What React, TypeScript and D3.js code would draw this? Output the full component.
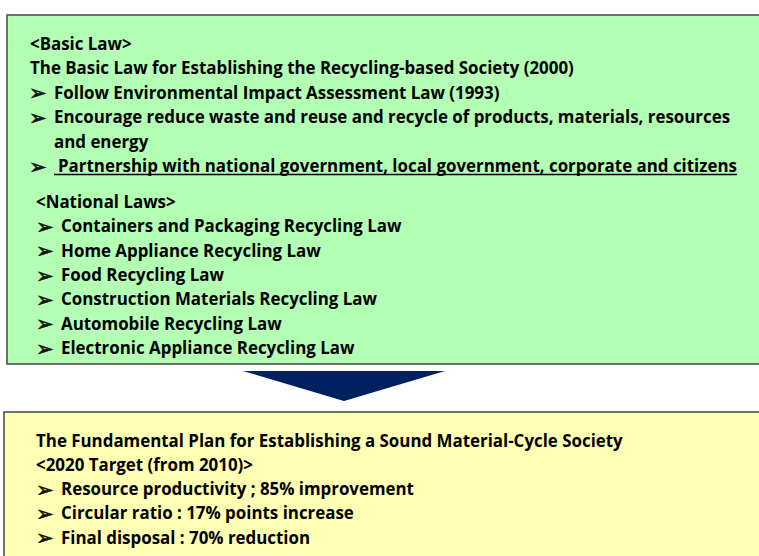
import React, { useRef, useEffect } from "react";
import * as d3 from "d3";

// text content of the two boxes
const basicHeading = "<Basic Law>";
const basicTitle = "The Basic Law for Establishing the Recycling-based Society (2000)";
const basicPoints = [
  "Follow Environmental Impact Assessment Law (1993)",
  "Encourage reduce waste and reuse and recycle of products, materials, resources",
  "and energy",
  "Partnership with national government, local government, corporate and citizens",
];
const basicBulleted = [true, true, false, true];
const nationalHeading = "<National Laws>";
const nationalLaws = [
  "Containers and Packaging Recycling Law",
  "Home Appliance Recycling Law",
  "Food Recycling Law",
  "Construction Materials Recycling Law",
  "Automobile Recycling Law",
  "Electronic Appliance Recycling Law",
];
const planTitle = "The Fundamental Plan for Establishing a Sound Material-Cycle Society";
const planTarget = "<2020 Target (from 2010)>";
const planTargets = [
  "Resource productivity ; 85% improvement",
  "Circular ratio : 17% points increase",
  "Final disposal : 70% reduction",
];

const W = 759;
const H = 556;
const FONT = "'Open Sans', Lato, sans-serif";
const BULLET = "\u27A2";

const App = () => {
  const ref = useRef(null);

  useEffect(() => {
    const svg = d3.select(ref.current);
    svg.selectAll("*").remove();

    const green = "#b3ffb3";
    const yellow = "#ffffb3";
    const border = "#4f4f4f";
    const navy = "#002060";

    // boxes
    svg.append("rect")
      .attr("x", 7).attr("y", 15)
      .attr("width", W + 20).attr("height", 349)
      .attr("fill", green).attr("stroke", border).attr("stroke-width", 1.6);
    svg.append("rect")
      .attr("x", 4).attr("y", 412)
      .attr("width", W + 20).attr("height", 200)
      .attr("fill", yellow).attr("stroke", border).attr("stroke-width", 1.6);

    // arrow between boxes
    const ax = d3.scaleLinear().domain([0, 1]).range([243, 445]);
    const ay = d3.scaleLinear().domain([0, 1]).range([371, 401]);
    const arrow = [[0, 0], [1, 0], [0.5, 1]];
    svg.append("path")
      .attr("d", d3.line().x((d) => ax(d[0])).y((d) => ay(d[1]))(arrow) + "Z")
      .attr("fill", navy);

    const txt = (x, y, s) =>
      svg.append("text")
        .attr("x", x).attr("y", y)
        .attr("font-family", FONT).attr("font-weight", 700)
        .attr("font-size", 16.9).attr("fill", "#000")
        .text(s);

    // arrowhead bullet glyph
    const bullet = (x, y) =>
      svg.append("text")
        .attr("x", x - 1).attr("y", y + 1.5)
        .attr("font-family", "'DejaVu Sans', sans-serif")
        .attr("font-size", 21).attr("fill", "#111")
        .attr("stroke", "#111").attr("stroke-width", 0.6)
        .text(BULLET);

    // basic law block
    const yBasic = d3.scaleLinear().domain([0, 1]).range([50, 74.4]);
    txt(30, yBasic(0), basicHeading);
    txt(30, yBasic(1), basicTitle);
    basicPoints.forEach((p, i) => {
      const y = yBasic(i + 2);
      if (basicBulleted[i]) bullet(30, y);
      const isLast = i === basicPoints.length - 1;
      const t = txt(isLast ? 58 : 54, y, p);
      if (isLast) {
        const len = t.node().getComputedTextLength();
        svg.append("line")
          .attr("x1", 54).attr("x2", 58 + len)
          .attr("y1", y + 2.5).attr("y2", y + 2.5)
          .attr("stroke", "#000").attr("stroke-width", 1.3);
      }
    });

    // national laws block
    const yNat = d3.scaleLinear().domain([0, 1]).range([207.8, 232.2]);
    txt(36, yNat(0), nationalHeading);
    nationalLaws.forEach((p, i) => {
      bullet(37, yNat(i + 1));
      txt(61, yNat(i + 1), p);
    });

    // plan block
    const yPlan = d3.scaleLinear().domain([0, 1]).range([446.5, 470.8]);
    txt(36, yPlan(0), planTitle);
    txt(36, yPlan(1), planTarget);
    planTargets.forEach((p, i) => {
      bullet(37, yPlan(i + 2));
      txt(61, yPlan(i + 2), p);
    });
  }, []);

  return (
    <svg
      ref={ref}
      width={W}
      height={H}
      style={{ position: "absolute", left: 0, top: 0, display: "block", background: "#fff" }}
    />
  );
};

export default App;
